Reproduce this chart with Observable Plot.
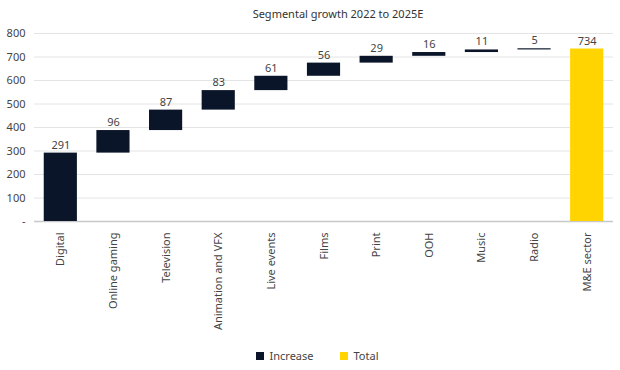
<!DOCTYPE html>
<html>
<head>
<meta charset="utf-8">
<script src="https://cdn.jsdelivr.net/npm/d3@7"></script>
<script src="https://cdn.jsdelivr.net/npm/@observablehq/plot@0.6"></script>
<style>
  body { margin: 0; background: #fff; font-family: "Noto Sans", sans-serif; }
  #title { height: 26px; line-height: 28px; text-align: center; font-size: 11px; color: #333; padding-left: 56px; box-sizing: border-box; }
  #legend { display: flex; justify-content: center; gap: 26px; font-size: 11px; color: #444; margin-top: 17px; padding-left: 14px; }
  #legend span.sw { display: inline-block; width: 8px; height: 8px; margin-right: 6px; vertical-align: middle; position: relative; top: -1px; }
</style>
</head>
<body>
<div id="title">Segmental growth 2022 to 2025E</div>
<div id="chart"></div>
<div id="legend"></div>
<script>
const categories = ["Digital", "Online gaming", "Television", "Animation and VFX", "Live events", "Films", "Print", "OOH", "Music", "Radio", "M&E sector"];
const values = [291, 96, 87, 83, 61, 56, 29, 16, 11, 5, 734];
const kinds = ["Increase", "Increase", "Increase", "Increase", "Increase", "Increase", "Increase", "Increase", "Increase", "Increase", "Total"];
const yTicks = [0, 100, 200, 300, 400, 500, 600, 700, 800];
const colors = {Increase: "#0b1529", Total: "#ffd400"};

let run = 0;
const data = categories.map((c, i) => {
  let y1, y2;
  if (kinds[i] === "Total") { y1 = 0; y2 = values[i]; }
  else { y1 = run; y2 = run + values[i]; run = y2; }
  return {category: c, value: values[i], kind: kinds[i], y1, y2};
});

const chart = Plot.plot({
  width: 620,
  height: 305,
  marginTop: 7,
  marginLeft: 34,
  marginRight: 7,
  marginBottom: 110,
  style: {fontFamily: "Noto Sans, sans-serif", fontSize: "11px", color: "#444"},
  x: {domain: categories, paddingInner: 0.37, paddingOuter: 0.185, round: false, label: null},
  y: {domain: [0, 800], label: null},
  marks: [
    Plot.gridY(yTicks, {stroke: "#e4e4e4", strokeOpacity: 1}),
    Plot.ruleY([0], {stroke: "#c8c8c8", strokeWidth: 1.5}),
    Plot.barY(data, {x: "category", y1: "y1", y2: "y2", fill: d => colors[d.kind]}),
    Plot.text(data, {x: "category", y: "y2", text: d => String(d.value), dy: -8, fill: "#444", fontSize: 11}),
    Plot.axisY(yTicks, {tickSize: 0, tickPadding: 9, tickFormat: d => d === 0 ? "-" : d, fill: "#444", fontSize: 11}),
    Plot.axisX({tickSize: 0, tickPadding: 11, tickRotate: -90, fill: "#444", fontSize: 11, label: null})
  ]
});
document.getElementById("chart").appendChild(chart);

const legend = document.getElementById("legend");
for (const k of Object.keys(colors)) {
  const item = document.createElement("div");
  item.innerHTML = `<span class="sw" style="background:${colors[k]}"></span>${k}`;
  legend.appendChild(item);
}
</script>
</body>
</html>
